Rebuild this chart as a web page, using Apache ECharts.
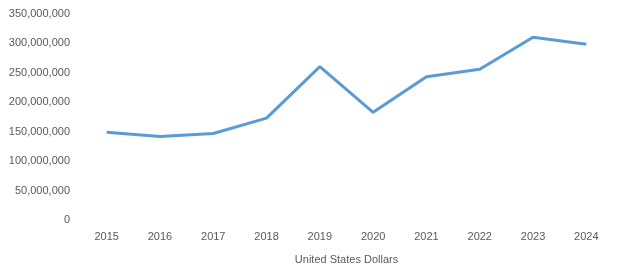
<!DOCTYPE html>
<html><head><meta charset="utf-8">
<script src="https://cdn.jsdelivr.net/npm/echarts@6/dist/echarts.min.js"></script>
<style>html,body{margin:0;padding:0;background:#fff}#c{width:629px;height:275px}</style>
</head><body><div id="c"></div>
<script>
const categories = ['2015','2016','2017','2018','2019','2020','2021','2022','2023','2024'];
const values = [149000000, 142000000, 147000000, 173000000, 260500000, 183000000, 243500000, 256000000, 310500000, 298500000];
const axisTitle = 'United States Dollars';

const chart = echarts.init(document.getElementById('c'));
chart.setOption({
  animation: false,
  textStyle: { fontFamily: 'Liberation Sans, Arial, sans-serif' },
  grid: { left: 80, right: 16, top: 14, bottom: 55 },
  xAxis: {
    type: 'category', data: categories, boundaryGap: true,
    axisLine: { show: false }, axisTick: { show: false },
    axisLabel: { color: '#595959', fontSize: 11, margin: 11 },
    name: axisTitle, nameLocation: 'middle', nameGap: 34,
    nameTextStyle: { color: '#595959', fontSize: 11 }
  },
  yAxis: {
    type: 'value', min: 0, max: 350000000, interval: 50000000,
    axisLine: { show: false }, axisTick: { show: false },
    splitLine: { show: false },
    axisLabel: { color: '#595959', fontSize: 11, margin: 10,
      formatter: v => v.toLocaleString('en-US') }
  },
  series: [{
    type: 'line', data: values, showSymbol: false, symbol: 'none',
    lineStyle: { color: '#5B9BD5', width: 3 }, itemStyle: { color: '#5B9BD5' }
  }]
});
</script></body></html>
